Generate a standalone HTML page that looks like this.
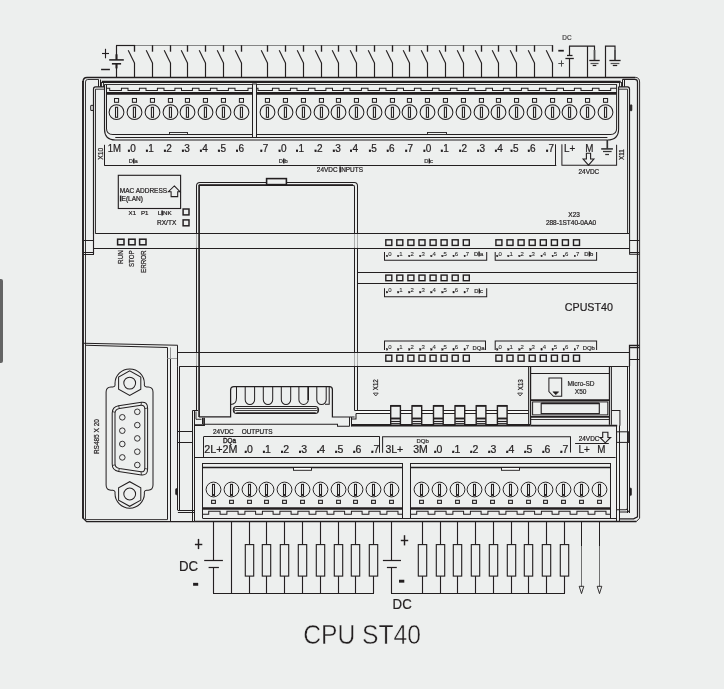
<!DOCTYPE html>
<html><head><meta charset="utf-8"><title>CPU ST40</title>
<style>
html,body{margin:0;padding:0;background:#fff;}
#wrap{position:relative;width:726px;height:691px;overflow:hidden;background:#fff;}
#bg{position:absolute;left:0;top:0;width:724px;height:689px;background:#edefee;}
#bar{position:absolute;left:0;top:279px;width:3px;height:84px;background:#646464;border-radius:0 2px 2px 0;}
svg{position:absolute;left:0;top:0;will-change:transform;}
text{font-family:"Liberation Sans",sans-serif;stroke:#231f20;stroke-width:.22px;}
</style></head><body>
<div id="wrap"><div id="bg"></div><div id="bar"></div>
<svg width="726" height="691" viewBox="0 0 726 691">
<g fill="none" stroke="#231f20" stroke-width="1" style="font-family:'Liberation Sans',sans-serif">
<path d="M134.5,45.5L553,45.5" stroke="#858585" stroke-width="1.01"/>
<path d="M116,45.5L135.1,45.5" stroke-width="1.18"/>
<path d="M116.5,45.6L116.5,59.9" stroke-width="1.18"/>
<path d="M116.5,54.3L116.5,59.9" stroke-width="2.02"/>
<path d="M109.2,59.9L123.8,59.9" stroke-width="1.51"/>
<path d="M111.9,63.8L121.1,63.8" stroke-width="1.57"/>
<path d="M116.5,63.8L116.5,68.4" stroke-width="2.02"/>
<path d="M116.5,63.8L116.5,77.2" stroke-width="1.18"/>
<path d="M102,53.5L109,53.5" stroke-width="1.12"/>
<path d="M105.5,48.8L105.5,58.3" stroke-width="1.12"/>
<path d="M101.1,69.5L109.9,69.5" stroke-width="1.46"/>
<path d="M134.5,45.2L134.5,51.7" stroke-width="1.34"/>
<path d="M128.2,50.3L134.6,63.3" stroke-width="1.12"/>
<path d="M134.5,63L134.5,77.2" stroke-width="1.18"/>
<path d="M152.5,45.2L152.5,51.7" stroke-width="1.34"/>
<path d="M146.2,50.3L152.6,63.3" stroke-width="1.12"/>
<path d="M152.5,63L152.5,77.2" stroke-width="1.18"/>
<path d="M170.5,45.2L170.5,51.7" stroke-width="1.34"/>
<path d="M164.2,50.3L170.6,63.3" stroke-width="1.12"/>
<path d="M170.5,63L170.5,77.2" stroke-width="1.18"/>
<path d="M187.5,45.2L187.5,51.7" stroke-width="1.34"/>
<path d="M181.2,50.3L187.6,63.3" stroke-width="1.12"/>
<path d="M187.5,63L187.5,77.2" stroke-width="1.18"/>
<path d="M205.5,45.2L205.5,51.7" stroke-width="1.34"/>
<path d="M199.2,50.3L205.6,63.3" stroke-width="1.12"/>
<path d="M205.5,63L205.5,77.2" stroke-width="1.18"/>
<path d="M223.5,45.2L223.5,51.7" stroke-width="1.34"/>
<path d="M217.2,50.3L223.6,63.3" stroke-width="1.12"/>
<path d="M223.5,63L223.5,77.2" stroke-width="1.18"/>
<path d="M241.5,45.2L241.5,51.7" stroke-width="1.34"/>
<path d="M235.2,50.3L241.6,63.3" stroke-width="1.12"/>
<path d="M241.5,63L241.5,77.2" stroke-width="1.18"/>
<path d="M267.5,45.2L267.5,51.7" stroke-width="1.34"/>
<path d="M261.2,50.3L267.6,63.3" stroke-width="1.12"/>
<path d="M267.5,63L267.5,77.2" stroke-width="1.18"/>
<path d="M285.5,45.2L285.5,51.7" stroke-width="1.34"/>
<path d="M279.2,50.3L285.6,63.3" stroke-width="1.12"/>
<path d="M285.5,63L285.5,77.2" stroke-width="1.18"/>
<path d="M303.5,45.2L303.5,51.7" stroke-width="1.34"/>
<path d="M297.2,50.3L303.6,63.3" stroke-width="1.12"/>
<path d="M303.5,63L303.5,77.2" stroke-width="1.18"/>
<path d="M321.5,45.2L321.5,51.7" stroke-width="1.34"/>
<path d="M315.2,50.3L321.6,63.3" stroke-width="1.12"/>
<path d="M321.5,63L321.5,77.2" stroke-width="1.18"/>
<path d="M338.5,45.2L338.5,51.7" stroke-width="1.34"/>
<path d="M332.2,50.3L338.6,63.3" stroke-width="1.12"/>
<path d="M338.5,63L338.5,77.2" stroke-width="1.18"/>
<path d="M356.5,45.2L356.5,51.7" stroke-width="1.34"/>
<path d="M350.2,50.3L356.6,63.3" stroke-width="1.12"/>
<path d="M356.5,63L356.5,77.2" stroke-width="1.18"/>
<path d="M374.5,45.2L374.5,51.7" stroke-width="1.34"/>
<path d="M368.2,50.3L374.6,63.3" stroke-width="1.12"/>
<path d="M374.5,63L374.5,77.2" stroke-width="1.18"/>
<path d="M392.5,45.2L392.5,51.7" stroke-width="1.34"/>
<path d="M386.2,50.3L392.6,63.3" stroke-width="1.12"/>
<path d="M392.5,63L392.5,77.2" stroke-width="1.18"/>
<path d="M409.5,45.2L409.5,51.7" stroke-width="1.34"/>
<path d="M403.2,50.3L409.6,63.3" stroke-width="1.12"/>
<path d="M409.5,63L409.5,77.2" stroke-width="1.18"/>
<path d="M427.5,45.2L427.5,51.7" stroke-width="1.34"/>
<path d="M421.2,50.3L427.6,63.3" stroke-width="1.12"/>
<path d="M427.5,63L427.5,77.2" stroke-width="1.18"/>
<path d="M445.5,45.2L445.5,51.7" stroke-width="1.34"/>
<path d="M439.2,50.3L445.6,63.3" stroke-width="1.12"/>
<path d="M445.5,63L445.5,77.2" stroke-width="1.18"/>
<path d="M463.5,45.2L463.5,51.7" stroke-width="1.34"/>
<path d="M457.2,50.3L463.6,63.3" stroke-width="1.12"/>
<path d="M463.5,63L463.5,77.2" stroke-width="1.18"/>
<path d="M481.5,45.2L481.5,51.7" stroke-width="1.34"/>
<path d="M475.2,50.3L481.6,63.3" stroke-width="1.12"/>
<path d="M481.5,63L481.5,77.2" stroke-width="1.18"/>
<path d="M498.5,45.2L498.5,51.7" stroke-width="1.34"/>
<path d="M492.2,50.3L498.6,63.3" stroke-width="1.12"/>
<path d="M498.5,63L498.5,77.2" stroke-width="1.18"/>
<path d="M516.5,45.2L516.5,51.7" stroke-width="1.34"/>
<path d="M510.2,50.3L516.6,63.3" stroke-width="1.12"/>
<path d="M516.5,63L516.5,77.2" stroke-width="1.18"/>
<path d="M534.5,45.2L534.5,51.7" stroke-width="1.34"/>
<path d="M528.2,50.3L534.6,63.3" stroke-width="1.12"/>
<path d="M534.5,63L534.5,77.2" stroke-width="1.18"/>
<path d="M552.5,45.2L552.5,51.7" stroke-width="1.34"/>
<path d="M546.2,50.3L552.6,63.3" stroke-width="1.12"/>
<path d="M552.5,63L552.5,77.2" stroke-width="1.18"/>
<path d="M569.5,46.1L569.5,55.6" stroke-width="1.18"/>
<path d="M567,55.5L572.5,55.5" stroke-width="1.29"/>
<path d="M565.4,58.5L573.8,58.5" stroke-width="1.29"/>
<path d="M569.5,58.5L569.5,77.2" stroke-width="1.18"/>
<path d="M569,46.1L594.5,46.1L594.5,60.4" stroke-width="1.18"/>
<path d="M594.5,50L594.5,60.4" stroke="#555" stroke-width="1.68"/>
<path d="M587.5,46.1L587.5,77.2" stroke-width="1.18"/>
<path d="M589.3,60.5L599.7,60.5" stroke-width="1.34"/>
<path d="M590.5,63.5L598.5,63.5" stroke="#555" stroke-width="1.23"/>
<path d="M592.7,65.5L596.3,65.5" stroke-width="1.23"/>
<path d="M605.5,77.2L605.5,46.1L615,46.1L615,60.4" stroke-width="1.18"/>
<path d="M615,50L615,60.4" stroke="#555" stroke-width="1.68"/>
<path d="M609.4,60.5L620.6,60.5" stroke-width="1.34"/>
<path d="M610.6,63.5L619.4,63.5" stroke="#555" stroke-width="1.23"/>
<path d="M612.8,65.5L617.2,65.5" stroke-width="1.23"/>
<text x="562.3" y="39.7" font-size="6.4" fill="#666">DC</text>
<path d="M558.3,50.7L563.8,50.7" stroke-width="1.74"/>
<path d="M558.3,63.5L563.9,63.5" stroke="#444" stroke-width="0.95"/>
<path d="M561.5,60.4L561.5,66.6" stroke="#444" stroke-width="0.95"/>
<path d="M83,82 Q83,77.5 87,77.5 H635.5" stroke-width="1.34"/>
<path d="M83,81 V518.6" stroke-width="1.9"/>
<path d="M635.5,77.5 Q639.6,77.5 639.6,82 V518.2 L636.2,521.7" stroke-width="0.95"/>
<path d="M85.5,343.5 V82 Q85.3,79.5 87.8,79.5 H98.7" stroke-width="0.9"/>
<path d="M622.6,79.3 H634.8 Q637.5,79.3 637.5,82 V516.8 L633.6,518.8 H619.3" stroke-width="1.23"/>
<path d="M98.5,79.5L98.5,86.8" stroke-width="1.01"/>
<path d="M100.5,79.5L100.5,86.8" stroke-width="1.01"/>
<path d="M101.5,82L101.5,87" stroke-width="0.9"/>
<path d="M103.5,82L103.5,87" stroke-width="0.9"/>
<path d="M101.8,81.9L620.7,81.9" stroke-width="2.35"/>
<path d="M104.4,84.5L616.9,84.5" stroke-width="0.9"/>
<path d="M622.5,79.3L622.5,86.8" stroke-width="1.01"/>
<path d="M624.5,79.3L624.5,86.8" stroke-width="1.01"/>
<path d="M619.5,82L619.5,87" stroke-width="0.9"/>
<path d="M621.5,82L621.5,87" stroke-width="0.9"/>
<path d="M104.4,86.8 H95.5 Q93.5,86.8 93.5,89 V233.6" stroke-width="1.18"/>
<path d="M104.4,89.2 H95.5 V233.6" stroke-width="0.9"/>
<path d="M618.6,86.8 H627.5 Q629.5,86.8 629.5,89 V233.5" stroke-width="1.18"/>
<path d="M618.6,89.2 H627.5 V233.5" stroke-width="0.9"/>
<path d="M104.5,84.5 V129 Q104.5,140.0 115.3,140.0 H607.4" stroke-width="1.12"/>
<path d="M106.5,84.5 V128.5 Q106.5,134.5 112.8,134.5 H610.4 Q616.6,134.5 616.6,128.5 V84.5" stroke-width="1.01"/>
<path d="M115.3,137.5 H607.4" stroke-width="1.01"/>
<path d="M607.4,140.0 Q618.6,140.0 618.6,129 V86.8" stroke-width="1.12"/>
<path d="M106.4,88.3L109.7,88.3L109.7,90.6L121.4,90.6L121.4,88.3L128,88.3L128,90.6L139.4,90.6L139.4,88.3L146,88.3L146,90.6L157.4,90.6L157.4,88.3L164,88.3L164,90.6L174.9,90.6L174.9,88.3L181.5,88.3L181.5,90.6L192.4,90.6L192.4,88.3L199,88.3L199,90.6L210.4,90.6L210.4,88.3L217,88.3L217,90.6L228.4,90.6L228.4,88.3L235,88.3L235,90.6L248,90.6L248,88.3L252.9,88.3" stroke-width="1.01"/>
<path d="M256.7,88.3L258,88.3L258,90.6L272.4,90.6L272.4,88.3L279,88.3L279,90.6L290.4,90.6L290.4,88.3L297,88.3L297,90.6L308.4,90.6L308.4,88.3L315,88.3L315,90.6L325.9,90.6L325.9,88.3L332.5,88.3L332.5,90.6L343.4,90.6L343.4,88.3L350,88.3L350,90.6L361.4,90.6L361.4,88.3L368,88.3L368,90.6L379.4,90.6L379.4,88.3L386,88.3L386,90.6L396.9,90.6L396.9,88.3L403.5,88.3L403.5,90.6L414.4,90.6L414.4,88.3L421,88.3L421,90.6L432.4,90.6L432.4,88.3L439,88.3L439,90.6L450.4,90.6L450.4,88.3L457,88.3L457,90.6L468.4,90.6L468.4,88.3L475,88.3L475,90.6L485.9,90.6L485.9,88.3L492.5,88.3L492.5,90.6L503.4,90.6L503.4,88.3L510,88.3L510,90.6L521.4,90.6L521.4,88.3L528,88.3L528,90.6L539.4,90.6L539.4,88.3L546,88.3L546,90.6L556.9,90.6L556.9,88.3L563.5,88.3L563.5,90.6L574.4,90.6L574.4,88.3L581,88.3L581,90.6L592.4,90.6L592.4,88.3L599,88.3L599,90.6L610.7,90.6L610.7,88.3L616.7,88.3" stroke-width="1.01"/>
<path d="M106.4,93.4L616.7,93.4" stroke-width="2.63"/>
<rect x="252.5" y="84" width="4" height="53.5" fill="#edefee" stroke-width="1.01"/>
<rect x="114.5" y="98.5" width="4.1" height="3.8" stroke-width="1.01"/>
<circle cx="116.5" cy="112.2" r="7.4" stroke-width="1.01"/>
<rect x="115.5" y="107.3" width="2.1" height="10" stroke-width="1.06"/>
<rect x="132.4" y="98.5" width="4.1" height="3.8" stroke-width="1.01"/>
<circle cx="134.5" cy="112.2" r="7.4" stroke-width="1.01"/>
<rect x="133.4" y="107.3" width="2.1" height="10" stroke-width="1.06"/>
<rect x="150.4" y="98.5" width="4.1" height="3.8" stroke-width="1.01"/>
<circle cx="152.5" cy="112.2" r="7.4" stroke-width="1.01"/>
<rect x="151.4" y="107.3" width="2.1" height="10" stroke-width="1.06"/>
<rect x="168.4" y="98.5" width="4.1" height="3.8" stroke-width="1.01"/>
<circle cx="170.5" cy="112.2" r="7.4" stroke-width="1.01"/>
<rect x="169.4" y="107.3" width="2.1" height="10" stroke-width="1.06"/>
<rect x="185.4" y="98.5" width="4.1" height="3.8" stroke-width="1.01"/>
<circle cx="187.5" cy="112.2" r="7.4" stroke-width="1.01"/>
<rect x="186.4" y="107.3" width="2.1" height="10" stroke-width="1.06"/>
<rect x="203.4" y="98.5" width="4.1" height="3.8" stroke-width="1.01"/>
<circle cx="205.5" cy="112.2" r="7.4" stroke-width="1.01"/>
<rect x="204.4" y="107.3" width="2.1" height="10" stroke-width="1.06"/>
<rect x="221.4" y="98.5" width="4.1" height="3.8" stroke-width="1.01"/>
<circle cx="223.5" cy="112.2" r="7.4" stroke-width="1.01"/>
<rect x="222.4" y="107.3" width="2.1" height="10" stroke-width="1.06"/>
<rect x="239.4" y="98.5" width="4.1" height="3.8" stroke-width="1.01"/>
<circle cx="241.5" cy="112.2" r="7.4" stroke-width="1.01"/>
<rect x="240.4" y="107.3" width="2.1" height="10" stroke-width="1.06"/>
<rect x="265.4" y="98.5" width="4.1" height="3.8" stroke-width="1.01"/>
<circle cx="267.5" cy="112.2" r="7.4" stroke-width="1.01"/>
<rect x="266.4" y="107.3" width="2.1" height="10" stroke-width="1.06"/>
<rect x="283.4" y="98.5" width="4.1" height="3.8" stroke-width="1.01"/>
<circle cx="285.5" cy="112.2" r="7.4" stroke-width="1.01"/>
<rect x="284.4" y="107.3" width="2.1" height="10" stroke-width="1.06"/>
<rect x="301.4" y="98.5" width="4.1" height="3.8" stroke-width="1.01"/>
<circle cx="303.5" cy="112.2" r="7.4" stroke-width="1.01"/>
<rect x="302.4" y="107.3" width="2.1" height="10" stroke-width="1.06"/>
<rect x="319.4" y="98.5" width="4.1" height="3.8" stroke-width="1.01"/>
<circle cx="321.5" cy="112.2" r="7.4" stroke-width="1.01"/>
<rect x="320.4" y="107.3" width="2.1" height="10" stroke-width="1.06"/>
<rect x="336.4" y="98.5" width="4.1" height="3.8" stroke-width="1.01"/>
<circle cx="338.5" cy="112.2" r="7.4" stroke-width="1.01"/>
<rect x="337.4" y="107.3" width="2.1" height="10" stroke-width="1.06"/>
<rect x="354.4" y="98.5" width="4.1" height="3.8" stroke-width="1.01"/>
<circle cx="356.5" cy="112.2" r="7.4" stroke-width="1.01"/>
<rect x="355.4" y="107.3" width="2.1" height="10" stroke-width="1.06"/>
<rect x="372.4" y="98.5" width="4.1" height="3.8" stroke-width="1.01"/>
<circle cx="374.5" cy="112.2" r="7.4" stroke-width="1.01"/>
<rect x="373.4" y="107.3" width="2.1" height="10" stroke-width="1.06"/>
<rect x="390.4" y="98.5" width="4.1" height="3.8" stroke-width="1.01"/>
<circle cx="392.5" cy="112.2" r="7.4" stroke-width="1.01"/>
<rect x="391.4" y="107.3" width="2.1" height="10" stroke-width="1.06"/>
<rect x="407.4" y="98.5" width="4.1" height="3.8" stroke-width="1.01"/>
<circle cx="409.5" cy="112.2" r="7.4" stroke-width="1.01"/>
<rect x="408.4" y="107.3" width="2.1" height="10" stroke-width="1.06"/>
<rect x="425.4" y="98.5" width="4.1" height="3.8" stroke-width="1.01"/>
<circle cx="427.5" cy="112.2" r="7.4" stroke-width="1.01"/>
<rect x="426.4" y="107.3" width="2.1" height="10" stroke-width="1.06"/>
<rect x="443.4" y="98.5" width="4.1" height="3.8" stroke-width="1.01"/>
<circle cx="445.5" cy="112.2" r="7.4" stroke-width="1.01"/>
<rect x="444.4" y="107.3" width="2.1" height="10" stroke-width="1.06"/>
<rect x="461.4" y="98.5" width="4.1" height="3.8" stroke-width="1.01"/>
<circle cx="463.5" cy="112.2" r="7.4" stroke-width="1.01"/>
<rect x="462.4" y="107.3" width="2.1" height="10" stroke-width="1.06"/>
<rect x="479.4" y="98.5" width="4.1" height="3.8" stroke-width="1.01"/>
<circle cx="481.5" cy="112.2" r="7.4" stroke-width="1.01"/>
<rect x="480.4" y="107.3" width="2.1" height="10" stroke-width="1.06"/>
<rect x="496.4" y="98.5" width="4.1" height="3.8" stroke-width="1.01"/>
<circle cx="498.5" cy="112.2" r="7.4" stroke-width="1.01"/>
<rect x="497.4" y="107.3" width="2.1" height="10" stroke-width="1.06"/>
<rect x="514.5" y="98.5" width="4.1" height="3.8" stroke-width="1.01"/>
<circle cx="516.5" cy="112.2" r="7.4" stroke-width="1.01"/>
<rect x="515.5" y="107.3" width="2.1" height="10" stroke-width="1.06"/>
<rect x="532.5" y="98.5" width="4.1" height="3.8" stroke-width="1.01"/>
<circle cx="534.5" cy="112.2" r="7.4" stroke-width="1.01"/>
<rect x="533.5" y="107.3" width="2.1" height="10" stroke-width="1.06"/>
<rect x="550.5" y="98.5" width="4.1" height="3.8" stroke-width="1.01"/>
<circle cx="552.5" cy="112.2" r="7.4" stroke-width="1.01"/>
<rect x="551.5" y="107.3" width="2.1" height="10" stroke-width="1.06"/>
<rect x="567.5" y="98.5" width="4.1" height="3.8" stroke-width="1.01"/>
<circle cx="569.5" cy="112.2" r="7.4" stroke-width="1.01"/>
<rect x="568.5" y="107.3" width="2.1" height="10" stroke-width="1.06"/>
<rect x="585.5" y="98.5" width="4.1" height="3.8" stroke-width="1.01"/>
<circle cx="587.5" cy="112.2" r="7.4" stroke-width="1.01"/>
<rect x="586.5" y="107.3" width="2.1" height="10" stroke-width="1.06"/>
<rect x="603.5" y="98.5" width="4.1" height="3.8" stroke-width="1.01"/>
<circle cx="605.5" cy="112.2" r="7.4" stroke-width="1.01"/>
<rect x="604.5" y="107.3" width="2.1" height="10" stroke-width="1.06"/>
<rect x="169.5" y="132.5" width="18" height="2" fill="#edefee" stroke-width="0.9"/>
<rect x="427.5" y="132.5" width="19" height="2" fill="#edefee" stroke-width="0.9"/>
<rect x="90.7" y="105.2" width="2.7" height="5.4" rx="1" stroke-width="1.01"/>
<rect x="630.3" y="104.8" width="1.5" height="6" rx="0.6" fill="#231f20" stroke-width="0.9"/>
<path d="M104.5,144.8L104.5,165.3" stroke-width="1.01"/>
<path d="M104.2,165.5L556.3,165.5" stroke-width="1.01"/>
<path d="M555.5,144.3L555.5,165.2" stroke-width="1.01"/>
<path d="M561.9,144.3L561.9,165.3L616.6,165.3L616.6,144.8" stroke-width="1.01"/>
<text x="107.7" y="151.5" font-size="10.2" fill="#231f20" textLength="13.3" lengthAdjust="spacingAndGlyphs">1M</text>
<text x="131.7" y="151.6" font-size="10" text-anchor="middle" fill="#231f20">.0</text>
<rect x="127.9" y="149.6" width="2" height="2.1" fill="#231f20" stroke="none"/>
<text x="149.7" y="151.6" font-size="10" text-anchor="middle" fill="#231f20">.1</text>
<rect x="145.9" y="149.6" width="2" height="2.1" fill="#231f20" stroke="none"/>
<text x="167.7" y="151.6" font-size="10" text-anchor="middle" fill="#231f20">.2</text>
<rect x="163.9" y="149.6" width="2" height="2.1" fill="#231f20" stroke="none"/>
<text x="185.7" y="151.6" font-size="10" text-anchor="middle" fill="#231f20">.3</text>
<rect x="181.9" y="149.6" width="2" height="2.1" fill="#231f20" stroke="none"/>
<text x="203.7" y="151.6" font-size="10" text-anchor="middle" fill="#231f20">.4</text>
<rect x="199.9" y="149.6" width="2" height="2.1" fill="#231f20" stroke="none"/>
<text x="221.8" y="151.6" font-size="10" text-anchor="middle" fill="#231f20">.5</text>
<rect x="217.9" y="149.6" width="2" height="2.1" fill="#231f20" stroke="none"/>
<text x="239.8" y="151.6" font-size="10" text-anchor="middle" fill="#231f20">.6</text>
<rect x="236" y="149.6" width="2" height="2.1" fill="#231f20" stroke="none"/>
<text x="264.1" y="151.6" font-size="10" text-anchor="middle" fill="#231f20">.7</text>
<rect x="260.3" y="149.6" width="2" height="2.1" fill="#231f20" stroke="none"/>
<text x="282.3" y="151.6" font-size="10" text-anchor="middle" fill="#231f20">.0</text>
<rect x="278.5" y="149.6" width="2" height="2.1" fill="#231f20" stroke="none"/>
<text x="299.8" y="151.6" font-size="10" text-anchor="middle" fill="#231f20">.1</text>
<rect x="296" y="149.6" width="2" height="2.1" fill="#231f20" stroke="none"/>
<text x="318.3" y="151.6" font-size="10" text-anchor="middle" fill="#231f20">.2</text>
<rect x="314.5" y="149.6" width="2" height="2.1" fill="#231f20" stroke="none"/>
<text x="336.6" y="151.6" font-size="10" text-anchor="middle" fill="#231f20">.3</text>
<rect x="332.8" y="149.6" width="2" height="2.1" fill="#231f20" stroke="none"/>
<text x="353.8" y="151.6" font-size="10" text-anchor="middle" fill="#231f20">.4</text>
<rect x="350" y="149.6" width="2" height="2.1" fill="#231f20" stroke="none"/>
<text x="372.7" y="151.6" font-size="10" text-anchor="middle" fill="#231f20">.5</text>
<rect x="368.9" y="149.6" width="2" height="2.1" fill="#231f20" stroke="none"/>
<text x="390.5" y="151.6" font-size="10" text-anchor="middle" fill="#231f20">.6</text>
<rect x="386.7" y="149.6" width="2" height="2.1" fill="#231f20" stroke="none"/>
<text x="409" y="151.6" font-size="10" text-anchor="middle" fill="#231f20">.7</text>
<rect x="405.2" y="149.6" width="2" height="2.1" fill="#231f20" stroke="none"/>
<text x="427.2" y="151.6" font-size="10" text-anchor="middle" fill="#231f20">.0</text>
<rect x="423.4" y="149.6" width="2" height="2.1" fill="#231f20" stroke="none"/>
<text x="444.6" y="151.6" font-size="10" text-anchor="middle" fill="#231f20">.1</text>
<rect x="440.8" y="149.6" width="2" height="2.1" fill="#231f20" stroke="none"/>
<text x="462.9" y="151.6" font-size="10" text-anchor="middle" fill="#231f20">.2</text>
<rect x="459.1" y="149.6" width="2" height="2.1" fill="#231f20" stroke="none"/>
<text x="480.9" y="151.6" font-size="10" text-anchor="middle" fill="#231f20">.3</text>
<rect x="477.1" y="149.6" width="2" height="2.1" fill="#231f20" stroke="none"/>
<text x="498.7" y="151.6" font-size="10" text-anchor="middle" fill="#231f20">.4</text>
<rect x="494.9" y="149.6" width="2" height="2.1" fill="#231f20" stroke="none"/>
<text x="514.3" y="151.6" font-size="10" text-anchor="middle" fill="#231f20">.5</text>
<rect x="510.5" y="149.6" width="2" height="2.1" fill="#231f20" stroke="none"/>
<text x="531.5" y="151.6" font-size="10" text-anchor="middle" fill="#231f20">.6</text>
<rect x="527.8" y="149.6" width="2" height="2.1" fill="#231f20" stroke="none"/>
<text x="549.9" y="151.6" font-size="10" text-anchor="middle" fill="#231f20">.7</text>
<rect x="546.1" y="149.6" width="2" height="2.1" fill="#231f20" stroke="none"/>
<text x="564" y="151.6" font-size="10.6" fill="#231f20" textLength="11.2" lengthAdjust="spacingAndGlyphs">L+</text>
<text x="585.2" y="151.6" font-size="10.6" fill="#231f20" textLength="8.2" lengthAdjust="spacingAndGlyphs">M</text>
<path d="M607.3,140L607.3,148.9" stroke="#333" stroke-width="1.68"/>
<path d="M601.2,148.9L612.9,148.9" stroke="#333" stroke-width="1.57"/>
<path d="M603,151.5L611.6,151.5" stroke="#333" stroke-width="1.23"/>
<path d="M605.2,154.5L609,154.5" stroke="#333" stroke-width="1.23"/>
<text x="102.9" y="159.8" font-size="6.6" fill="#231f20" transform="rotate(-90 102.9 159.8)" textLength="12" lengthAdjust="spacingAndGlyphs">X10</text>
<text x="623.6" y="159.9" font-size="6.6" fill="#231f20" transform="rotate(-90 623.6 159.9)" textLength="10.8" lengthAdjust="spacingAndGlyphs">X11</text>
<text x="128.8" y="163" font-size="5.8" fill="#444">D<tspan style="stroke-width:.9px">I</tspan>a</text>
<text x="278.8" y="162.6" font-size="5.8" fill="#444">D<tspan style="stroke-width:.9px">I</tspan>b</text>
<text x="424.3" y="162.6" font-size="5.8" fill="#444">D<tspan style="stroke-width:.9px">I</tspan>c</text>
<text x="316.8" y="172.2" font-size="6.45" fill="#231f20">24VDC <tspan style="stroke-width:.9px">I</tspan>NPUTS</text>
<text x="578.5" y="174.1" font-size="6.45" fill="#231f20">24VDC</text>
<path d="M586.4,153.2L590.6,153.2L590.6,159L593.9,159L588.5,165.2L583.1,159L586.4,159Z" fill="#edefee" stroke-width="1.12"/>
<rect x="118.3" y="175.3" width="62.3" height="33.2" stroke-width="1.12"/>
<text x="119.8" y="193.2" font-size="6.5" fill="#231f20">MAC ADDRESS</text>
<text x="119.8" y="201.2" font-size="6.5" fill="#231f20"><tspan style="stroke-width:.9px">I</tspan>E(LAN)</text>
<path d="M174.3,185.9L180,191.7L177.7,191.7L177.7,196.6L171.1,196.6L171.1,191.7L168.4,191.7Z" fill="#edefee" stroke-width="1.06"/>
<text x="128.6" y="214.9" font-size="6.1" fill="#231f20">X1</text>
<text x="141" y="214.9" font-size="6.1" fill="#231f20">P1</text>
<text x="157.7" y="214.9" font-size="6.25" fill="#231f20">L<tspan style="stroke-width:.9px">I</tspan>NK</text>
<text x="157.1" y="224.8" font-size="6.5" fill="#231f20">RX/TX</text>
<rect x="183.1" y="209" width="5.9" height="5.9" stroke-width="1.46"/>
<rect x="183.1" y="219.9" width="5.9" height="5.9" stroke-width="1.46"/>
<path d="M95.4,233.5L629.6,233.5" stroke-width="1.01"/>
<path d="M93.5,248.5L629.6,248.5" stroke-width="1.01"/>
<path d="M83.5,240.5L93.5,240.5" stroke-width="1.01"/>
<path d="M83.5,252.5L93.5,252.5" stroke-width="1.01"/>
<path d="M83.5,254.5L94,254.5" stroke-width="1.01"/>
<path d="M93.5,233L93.5,254.5" stroke-width="1.12"/>
<rect x="117.6" y="239.2" width="6.4" height="5.6" stroke-width="1.51"/>
<rect x="128.7" y="239.2" width="6.4" height="5.6" stroke-width="1.51"/>
<rect x="139.6" y="239.2" width="6.4" height="5.6" stroke-width="1.51"/>
<text x="123.2" y="263.9" font-size="6.6" fill="#231f20" transform="rotate(-90 123.2 263.9)" textLength="13.7" lengthAdjust="spacingAndGlyphs">RUN</text>
<text x="134.3" y="267.1" font-size="6.6" fill="#231f20" transform="rotate(-90 134.3 267.1)" textLength="16.7" lengthAdjust="spacingAndGlyphs">STOP</text>
<text x="146.1" y="273" font-size="6.6" fill="#231f20" transform="rotate(-90 146.1 273)" textLength="22.6" lengthAdjust="spacingAndGlyphs">ERROR</text>
<path d="M196.5,410.4 V186 Q196.5,182.6 200,182.6 H354.2 Q357.5,182.6 357.5,186 V410.6" stroke-width="1.01"/>
<path d="M199.1,416.9 V185.2" stroke-width="1.68"/>
<path d="M198.4,185.2 H353 Q354.5,185.2 354.5,187 V410.6" stroke-width="1.01"/>
<path d="M199.1,185.2L353,185.2" stroke-width="1.79"/>
<rect x="266.6" y="178.6" width="19.8" height="6" fill="#edefee" stroke-width="1.57"/>
<path d="M196.5,234.2L196.5,247.6" stroke="#edefee" stroke-width="1.46"/>
<path d="M196.5,234.2L196.5,247.6" stroke="#999" stroke-width="0.78"/>
<path d="M357.5,234.2L357.5,247.6" stroke="#edefee" stroke-width="1.46"/>
<path d="M357.5,234.2L357.5,247.6" stroke="#999" stroke-width="0.78"/>
<path d="M354.5,234.2L354.5,247.6" stroke="#edefee" stroke-width="1.46"/>
<path d="M354.5,234.2L354.5,247.6" stroke="#999" stroke-width="0.78"/>
<path d="M196.5,352.8L196.5,365.6" stroke="#edefee" stroke-width="1.46"/>
<path d="M196.5,352.8L196.5,365.6" stroke="#999" stroke-width="0.78"/>
<path d="M357.5,352.8L357.5,365.6" stroke="#edefee" stroke-width="1.46"/>
<path d="M357.5,352.8L357.5,365.6" stroke="#999" stroke-width="0.78"/>
<path d="M354.5,352.8L354.5,365.6" stroke="#edefee" stroke-width="1.46"/>
<path d="M354.5,352.8L354.5,365.6" stroke="#999" stroke-width="0.78"/>
<path d="M357.5,272.5L637.5,272.5" stroke-width="1.01"/>
<path d="M357.5,283.5L637.5,283.5" stroke-width="1.01"/>
<path d="M177.7,352.5L629.4,352.5" stroke-width="1.01"/>
<path d="M179.7,366.5L628.6,366.5" stroke-width="1.01"/>
<rect x="385.8" y="239.8" width="6" height="5.6" stroke-width="1.4"/>
<rect x="396.8" y="239.8" width="6" height="5.6" stroke-width="1.4"/>
<rect x="407.9" y="239.8" width="6" height="5.6" stroke-width="1.4"/>
<rect x="419" y="239.8" width="6" height="5.6" stroke-width="1.4"/>
<rect x="430.1" y="239.8" width="6" height="5.6" stroke-width="1.4"/>
<rect x="441.1" y="239.8" width="6" height="5.6" stroke-width="1.4"/>
<rect x="452.2" y="239.8" width="6" height="5.6" stroke-width="1.4"/>
<rect x="463.3" y="239.8" width="6" height="5.6" stroke-width="1.4"/>
<rect x="495.9" y="239.8" width="6" height="5.6" stroke-width="1.4"/>
<rect x="507" y="239.8" width="6" height="5.6" stroke-width="1.4"/>
<rect x="518.1" y="239.8" width="6" height="5.6" stroke-width="1.4"/>
<rect x="529.2" y="239.8" width="6" height="5.6" stroke-width="1.4"/>
<rect x="540.3" y="239.8" width="6" height="5.6" stroke-width="1.4"/>
<rect x="551.4" y="239.8" width="6" height="5.6" stroke-width="1.4"/>
<rect x="562.4" y="239.8" width="6" height="5.6" stroke-width="1.4"/>
<rect x="573.5" y="239.8" width="6" height="5.6" stroke-width="1.4"/>
<rect x="386.4" y="255.3" width="1.4" height="1.5" fill="#231f20" stroke-width="0.34"/>
<text x="388.2" y="255.9" font-size="6.0" fill="#333" style="stroke-width:.1px">0</text>
<rect x="397.5" y="255.3" width="1.4" height="1.5" fill="#231f20" stroke-width="0.34"/>
<text x="399.3" y="255.9" font-size="6.0" fill="#333" style="stroke-width:.1px">1</text>
<rect x="408.6" y="255.3" width="1.4" height="1.5" fill="#231f20" stroke-width="0.34"/>
<text x="410.4" y="255.9" font-size="6.0" fill="#333" style="stroke-width:.1px">2</text>
<rect x="419.6" y="255.3" width="1.4" height="1.5" fill="#231f20" stroke-width="0.34"/>
<text x="421.4" y="255.9" font-size="6.0" fill="#333" style="stroke-width:.1px">3</text>
<rect x="430.7" y="255.3" width="1.4" height="1.5" fill="#231f20" stroke-width="0.34"/>
<text x="432.5" y="255.9" font-size="6.0" fill="#333" style="stroke-width:.1px">4</text>
<rect x="441.8" y="255.3" width="1.4" height="1.5" fill="#231f20" stroke-width="0.34"/>
<text x="443.6" y="255.9" font-size="6.0" fill="#333" style="stroke-width:.1px">5</text>
<rect x="452.9" y="255.3" width="1.4" height="1.5" fill="#231f20" stroke-width="0.34"/>
<text x="454.7" y="255.9" font-size="6.0" fill="#333" style="stroke-width:.1px">6</text>
<rect x="464" y="255.3" width="1.4" height="1.5" fill="#231f20" stroke-width="0.34"/>
<text x="465.8" y="255.9" font-size="6.0" fill="#333" style="stroke-width:.1px">7</text>
<text x="478.6" y="256.3" font-size="5.9" text-anchor="middle" fill="#3c3c3c">D<tspan style="stroke-width:.8px;fill:#231f20">I</tspan>a</text>
<rect x="496.6" y="255.3" width="1.4" height="1.5" fill="#231f20" stroke-width="0.34"/>
<text x="498.4" y="255.9" font-size="6.0" fill="#333" style="stroke-width:.1px">0</text>
<rect x="507.7" y="255.3" width="1.4" height="1.5" fill="#231f20" stroke-width="0.34"/>
<text x="509.5" y="255.9" font-size="6.0" fill="#333" style="stroke-width:.1px">1</text>
<rect x="518.8" y="255.3" width="1.4" height="1.5" fill="#231f20" stroke-width="0.34"/>
<text x="520.6" y="255.9" font-size="6.0" fill="#333" style="stroke-width:.1px">2</text>
<rect x="529.8" y="255.3" width="1.4" height="1.5" fill="#231f20" stroke-width="0.34"/>
<text x="531.6" y="255.9" font-size="6.0" fill="#333" style="stroke-width:.1px">3</text>
<rect x="540.9" y="255.3" width="1.4" height="1.5" fill="#231f20" stroke-width="0.34"/>
<text x="542.7" y="255.9" font-size="6.0" fill="#333" style="stroke-width:.1px">4</text>
<rect x="552" y="255.3" width="1.4" height="1.5" fill="#231f20" stroke-width="0.34"/>
<text x="553.8" y="255.9" font-size="6.0" fill="#333" style="stroke-width:.1px">5</text>
<rect x="563.1" y="255.3" width="1.4" height="1.5" fill="#231f20" stroke-width="0.34"/>
<text x="564.9" y="255.9" font-size="6.0" fill="#333" style="stroke-width:.1px">6</text>
<rect x="574.2" y="255.3" width="1.4" height="1.5" fill="#231f20" stroke-width="0.34"/>
<text x="576" y="255.9" font-size="6.0" fill="#333" style="stroke-width:.1px">7</text>
<text x="588.8" y="256.3" font-size="5.9" text-anchor="middle" fill="#3c3c3c">D<tspan style="stroke-width:.8px;fill:#231f20">I</tspan>b</text>
<path d="M384.5,252L384.5,260.3L486.7,260.3L486.7,252" stroke-width="1.01"/>
<path d="M495.2,252L495.2,260.3L596.6,260.3L596.6,252" stroke-width="1.01"/>
<rect x="385.8" y="275.1" width="6" height="5.6" stroke-width="1.4"/>
<rect x="396.8" y="275.1" width="6" height="5.6" stroke-width="1.4"/>
<rect x="407.9" y="275.1" width="6" height="5.6" stroke-width="1.4"/>
<rect x="419" y="275.1" width="6" height="5.6" stroke-width="1.4"/>
<rect x="430.1" y="275.1" width="6" height="5.6" stroke-width="1.4"/>
<rect x="441.1" y="275.1" width="6" height="5.6" stroke-width="1.4"/>
<rect x="452.2" y="275.1" width="6" height="5.6" stroke-width="1.4"/>
<rect x="463.3" y="275.1" width="6" height="5.6" stroke-width="1.4"/>
<rect x="386.4" y="291.5" width="1.4" height="1.5" fill="#231f20" stroke-width="0.34"/>
<text x="388.2" y="292.1" font-size="6.0" fill="#333" style="stroke-width:.1px">0</text>
<rect x="397.5" y="291.5" width="1.4" height="1.5" fill="#231f20" stroke-width="0.34"/>
<text x="399.3" y="292.1" font-size="6.0" fill="#333" style="stroke-width:.1px">1</text>
<rect x="408.6" y="291.5" width="1.4" height="1.5" fill="#231f20" stroke-width="0.34"/>
<text x="410.4" y="292.1" font-size="6.0" fill="#333" style="stroke-width:.1px">2</text>
<rect x="419.6" y="291.5" width="1.4" height="1.5" fill="#231f20" stroke-width="0.34"/>
<text x="421.4" y="292.1" font-size="6.0" fill="#333" style="stroke-width:.1px">3</text>
<rect x="430.7" y="291.5" width="1.4" height="1.5" fill="#231f20" stroke-width="0.34"/>
<text x="432.5" y="292.1" font-size="6.0" fill="#333" style="stroke-width:.1px">4</text>
<rect x="441.8" y="291.5" width="1.4" height="1.5" fill="#231f20" stroke-width="0.34"/>
<text x="443.6" y="292.1" font-size="6.0" fill="#333" style="stroke-width:.1px">5</text>
<rect x="452.9" y="291.5" width="1.4" height="1.5" fill="#231f20" stroke-width="0.34"/>
<text x="454.7" y="292.1" font-size="6.0" fill="#333" style="stroke-width:.1px">6</text>
<rect x="464" y="291.5" width="1.4" height="1.5" fill="#231f20" stroke-width="0.34"/>
<text x="465.8" y="292.1" font-size="6.0" fill="#333" style="stroke-width:.1px">7</text>
<text x="478.6" y="292.5" font-size="5.9" text-anchor="middle" fill="#3c3c3c">D<tspan style="stroke-width:.8px;fill:#231f20">I</tspan>c</text>
<path d="M384.5,288.2L384.5,296.7L486.7,296.7L486.7,288.2" stroke-width="1.01"/>
<rect x="385.8" y="355.2" width="6" height="6" stroke-width="1.4"/>
<rect x="396.8" y="355.2" width="6" height="6" stroke-width="1.4"/>
<rect x="407.9" y="355.2" width="6" height="6" stroke-width="1.4"/>
<rect x="419" y="355.2" width="6" height="6" stroke-width="1.4"/>
<rect x="430.1" y="355.2" width="6" height="6" stroke-width="1.4"/>
<rect x="441.1" y="355.2" width="6" height="6" stroke-width="1.4"/>
<rect x="452.2" y="355.2" width="6" height="6" stroke-width="1.4"/>
<rect x="463.3" y="355.2" width="6" height="6" stroke-width="1.4"/>
<rect x="495.9" y="355.2" width="6" height="6" stroke-width="1.4"/>
<rect x="507" y="355.2" width="6" height="6" stroke-width="1.4"/>
<rect x="518.1" y="355.2" width="6" height="6" stroke-width="1.4"/>
<rect x="529.2" y="355.2" width="6" height="6" stroke-width="1.4"/>
<rect x="540.3" y="355.2" width="6" height="6" stroke-width="1.4"/>
<rect x="551.4" y="355.2" width="6" height="6" stroke-width="1.4"/>
<rect x="562.4" y="355.2" width="6" height="6" stroke-width="1.4"/>
<rect x="573.5" y="355.2" width="6" height="6" stroke-width="1.4"/>
<rect x="386.4" y="348.7" width="1.4" height="1.5" fill="#231f20" stroke-width="0.34"/>
<text x="388.2" y="349.3" font-size="6.0" fill="#333" style="stroke-width:.1px">0</text>
<rect x="397.5" y="348.7" width="1.4" height="1.5" fill="#231f20" stroke-width="0.34"/>
<text x="399.3" y="349.3" font-size="6.0" fill="#333" style="stroke-width:.1px">1</text>
<rect x="408.6" y="348.7" width="1.4" height="1.5" fill="#231f20" stroke-width="0.34"/>
<text x="410.4" y="349.3" font-size="6.0" fill="#333" style="stroke-width:.1px">2</text>
<rect x="419.6" y="348.7" width="1.4" height="1.5" fill="#231f20" stroke-width="0.34"/>
<text x="421.4" y="349.3" font-size="6.0" fill="#333" style="stroke-width:.1px">3</text>
<rect x="430.7" y="348.7" width="1.4" height="1.5" fill="#231f20" stroke-width="0.34"/>
<text x="432.5" y="349.3" font-size="6.0" fill="#333" style="stroke-width:.1px">4</text>
<rect x="441.8" y="348.7" width="1.4" height="1.5" fill="#231f20" stroke-width="0.34"/>
<text x="443.6" y="349.3" font-size="6.0" fill="#333" style="stroke-width:.1px">5</text>
<rect x="452.9" y="348.7" width="1.4" height="1.5" fill="#231f20" stroke-width="0.34"/>
<text x="454.7" y="349.3" font-size="6.0" fill="#333" style="stroke-width:.1px">6</text>
<rect x="464" y="348.7" width="1.4" height="1.5" fill="#231f20" stroke-width="0.34"/>
<text x="465.8" y="349.3" font-size="6.0" fill="#333" style="stroke-width:.1px">7</text>
<text x="478.6" y="349.7" font-size="5.9" text-anchor="middle" fill="#3c3c3c">DQa</text>
<rect x="496.6" y="348.7" width="1.4" height="1.5" fill="#231f20" stroke-width="0.34"/>
<text x="498.4" y="349.3" font-size="6.0" fill="#333" style="stroke-width:.1px">0</text>
<rect x="507.7" y="348.7" width="1.4" height="1.5" fill="#231f20" stroke-width="0.34"/>
<text x="509.5" y="349.3" font-size="6.0" fill="#333" style="stroke-width:.1px">1</text>
<rect x="518.8" y="348.7" width="1.4" height="1.5" fill="#231f20" stroke-width="0.34"/>
<text x="520.6" y="349.3" font-size="6.0" fill="#333" style="stroke-width:.1px">2</text>
<rect x="529.8" y="348.7" width="1.4" height="1.5" fill="#231f20" stroke-width="0.34"/>
<text x="531.6" y="349.3" font-size="6.0" fill="#333" style="stroke-width:.1px">3</text>
<rect x="540.9" y="348.7" width="1.4" height="1.5" fill="#231f20" stroke-width="0.34"/>
<text x="542.7" y="349.3" font-size="6.0" fill="#333" style="stroke-width:.1px">4</text>
<rect x="552" y="348.7" width="1.4" height="1.5" fill="#231f20" stroke-width="0.34"/>
<text x="553.8" y="349.3" font-size="6.0" fill="#333" style="stroke-width:.1px">5</text>
<rect x="563.1" y="348.7" width="1.4" height="1.5" fill="#231f20" stroke-width="0.34"/>
<text x="564.9" y="349.3" font-size="6.0" fill="#333" style="stroke-width:.1px">6</text>
<rect x="574.2" y="348.7" width="1.4" height="1.5" fill="#231f20" stroke-width="0.34"/>
<text x="576" y="349.3" font-size="6.0" fill="#333" style="stroke-width:.1px">7</text>
<text x="588.8" y="349.7" font-size="5.9" text-anchor="middle" fill="#3c3c3c">DQb</text>
<path d="M384.5,350L384.5,341.1L485.5,341.1L485.5,350" stroke-width="1.01"/>
<path d="M495.2,350L495.2,341.1L596.6,341.1L596.6,350" stroke-width="1.01"/>
<text x="574.1" y="216.8" font-size="6.5" text-anchor="middle" fill="#231f20">X23</text>
<text x="571" y="225.3" font-size="6.5" text-anchor="middle" fill="#231f20">288-1ST40-0AA0</text>
<text x="564.8" y="311.1" font-size="10.7" fill="#231f20">CPUST40</text>
<path d="M629.6,233.5L629.6,254.3L639.5,254.3" stroke-width="1.01"/>
<path d="M629.6,240.5L639.5,240.5" stroke-width="1.01"/>
<path d="M629.6,252.5L639.5,252.5" stroke-width="1.01"/>
<path d="M629.5,366L629.5,345.3L639.5,345.3" stroke-width="1.23"/>
<path d="M629.5,347.5L639.5,347.5" stroke-width="1.46"/>
<path d="M629.5,359.5L639.5,359.5" stroke-width="1.01"/>
<path d="M627.5,366L627.5,513" stroke-width="1.01"/>
<path d="M629.5,366L629.5,513" stroke-width="1.01"/>
<path d="M83,518 L86.6,521.7 H194.8" stroke-width="1.34"/>
<path d="M85.5,343 V519.6 H167.4" stroke-width="0.9"/>
<path d="M83.2,343.3L177.7,345.3" stroke-width="1.01"/>
<path d="M85.7,345.3L167.4,347.4" stroke-width="1.01"/>
<path d="M167.5,347.4L167.5,519.6" stroke-width="1.01"/>
<path d="M170.5,347.4L170.5,358.6" stroke="#888" stroke-width="0.9"/>
<path d="M170.5,358.6L170.5,521.2" stroke-width="1.01"/>
<path d="M167.4,358.5L177.7,358.5" stroke="#999" stroke-width="0.9"/>
<path d="M177.5,345.3L177.5,366.2" stroke-width="1.01"/>
<path d="M177.5,366.2L177.5,510.3" stroke-width="1.01"/>
<path d="M179.5,366.2L179.5,510.3" stroke-width="1.01"/>
<path d="M177.9,510.5L194.7,510.5" stroke-width="1.01"/>
<path d="M177.9,512.5L194.7,512.5" stroke-width="1.01"/>
<path d="M177.9,431.5L192.6,431.5" stroke-width="1.01"/>
<path d="M177.9,442.5L192.6,442.5" stroke-width="1.01"/>
<rect x="175.6" y="488.6" width="1.8" height="6.2" rx="0.8" fill="#231f20" stroke-width="0.67"/>
<path d="M140.8,389.2L129.7,395.4L118.6,389.2L118.6,377L129.7,370.8L140.8,377Z" stroke-width="1.01"/>
<circle cx="129.7" cy="383.1" r="5.9" stroke-width="1.01"/>
<path d="M140.8,500.1L129.7,506.3L118.6,500.1L118.6,487.9L129.7,481.7L140.8,487.9Z" stroke-width="1.01"/>
<circle cx="129.7" cy="494" r="5.9" stroke-width="1.01"/>
<path d="M106.1,392 Q106.1,387 111,386.9 L112.8,386.9 Q115.6,386.6 115,383.6 A14.7,14.7 0 0 1 144.4,383.6 Q143.8,386.6 146.6,386.9 L148.2,386.9 Q153,387 153,392 V485.1 Q153,490.1 148.2,490.2 L146.6,490.2 Q143.8,490.5 144.4,493.5 A14.7,14.7 0 0 1 115,493.5 Q115.6,490.5 112.8,490.2 L111,490.2 Q106.1,490.1 106.1,485.1 Z" stroke-width="1.01"/>
<path d="M118.6,405.7 L141.5,402.2 Q147.6,401.6 147.6,408 V469.1 Q147.6,475.5 141.5,474.9 L118.6,471.4 Q112.2,470.4 112.2,464 V413.1 Q112.2,406.7 118.6,405.7 Z" stroke-width="1.01"/>
<path d="M119.4,408.6 L141,405.3 Q144.8,405 144.8,409 V468.1 Q144.8,472.1 141,471.8 L119.4,468.5 Q115,467.7 115,463.5 V413.6 Q115,409.4 119.4,408.6 Z" stroke-width="1.01"/>
<path d="M118.6,405.7L119.4,408.6" stroke-width="0.78"/>
<path d="M118.6,471.4L119.4,468.5" stroke-width="0.78"/>
<path d="M141.5,402.2L141,405.3" stroke-width="0.78"/>
<path d="M141.5,474.9L141,471.8" stroke-width="0.78"/>
<path d="M112.3,411.5L115,412.3" stroke-width="0.78"/>
<path d="M112.3,465.6L115,464.8" stroke-width="0.78"/>
<path d="M147.6,408L144.8,408.6" stroke-width="0.78"/>
<path d="M147.6,469.1L144.8,468.5" stroke-width="0.78"/>
<circle cx="122.3" cy="417.3" r="2.8" stroke-width="0.9"/>
<circle cx="122.3" cy="430.7" r="2.8" stroke-width="0.9"/>
<circle cx="122.3" cy="444" r="2.8" stroke-width="0.9"/>
<circle cx="122.3" cy="457.4" r="2.8" stroke-width="0.9"/>
<circle cx="137.3" cy="411.8" r="2.8" stroke-width="0.9"/>
<circle cx="137.3" cy="425.1" r="2.8" stroke-width="0.9"/>
<circle cx="137.3" cy="438.4" r="2.8" stroke-width="0.9"/>
<circle cx="137.3" cy="451.7" r="2.8" stroke-width="0.9"/>
<circle cx="137.3" cy="465" r="2.8" stroke-width="0.9"/>
<text x="98.9" y="454.1" font-size="6.6" fill="#231f20" transform="rotate(-90 98.9 454.1)" textLength="35" lengthAdjust="spacingAndGlyphs">RS485 X 20</text>
<path d="M192.6,410.5L198,410.5" stroke-width="1.01"/>
<path d="M192.5,410.4L192.5,521.3" stroke-width="1.01"/>
<path d="M194.5,410.4L194.5,521.3" stroke-width="1.01"/>
<path d="M198.9,416.9L230.6,416.9L230.6,389.5" stroke-width="1.23"/>
<path d="M230.6,390 Q230.6,386.6 234,386.6 H329.4 Q332.4,386.6 332.4,389.6 V417.0 H354.6" stroke-width="1.23"/>
<path d="M236.5,386.7 V398 Q236.5,404.4 230.6,404.4" stroke-width="1.01"/>
<path d="M245.2,386.7 V399.7 A4.7,4.7 0 0 0 254.6,399.7 V386.7" stroke-width="1.01"/>
<path d="M263.3,386.7 V399.7 A4.7,4.7 0 0 0 272.7,399.7 V386.7" stroke-width="1.01"/>
<path d="M281.3,386.7 V399.7 A4.7,4.7 0 0 0 290.7,399.7 V386.7" stroke-width="1.01"/>
<path d="M298.9,386.7 V399.7 A4.7,4.7 0 0 0 308.3,399.7 V386.7" stroke-width="1.01"/>
<path d="M316.8,386.7 V399.7 A4.7,4.7 0 0 0 326.2,399.7 V386.7" stroke-width="1.01"/>
<path d="M308.2,386.7L308.2,400" stroke-width="1.57"/>
<path d="M329.2,386.7L329.2,404.2L325,404.2" stroke-width="1.01"/>
<rect x="233.3" y="406.5" width="85.3" height="7" rx="3.5" stroke-width="1.06"/>
<path d="M235.5,408.5L316.5,408.5" stroke-width="0.84"/>
<path d="M235,410.5L317,410.5" stroke-width="0.84"/>
<path d="M236.3,413.2L315.7,413.2" stroke-width="1.68"/>
<path d="M234.5,407.6L234.5,412.4" stroke-width="0.67"/>
<path d="M317.5,407.6L317.5,412.4" stroke-width="0.67"/>
<path d="M194.7,425.1L204.1,425.1L204.1,417.8" stroke-width="1.68"/>
<path d="M202.5,417.8L202.5,424" stroke-width="1.01"/>
<path d="M196,411.5L196,419.3L201.5,419.3" stroke-width="0.9"/>
<path d="M204.1,424.2L337.5,424.2L337.5,426.2L349.6,426.2" stroke-width="1.01"/>
<path d="M349.5,417.1L349.5,426.2" stroke-width="1.01"/>
<path d="M351.5,417.1L351.5,426.2" stroke-width="1.01"/>
<path d="M356,413.6L356,419L351.5,419" stroke-width="1.01"/>
<rect x="356" y="410.6" width="172.5" height="2.7" fill="#fafbfa" stroke="none" stroke-width="0.01"/>
<path d="M354.6,410.5L528.5,410.5" stroke-width="1.23"/>
<path d="M356,413.5L528.5,413.5" stroke-width="1.01"/>
<path d="M351,425.2L530.7,425.2" stroke-width="2.35"/>
<rect x="390.7" y="405.8" width="9.7" height="19.4" fill="#edefee" stroke-width="1.4"/>
<path d="M390.7,405.8L400.4,405.8" stroke-width="1.68"/>
<path d="M390.8,418.5L400.4,418.5" stroke-width="1.9"/>
<path d="M390.9,421.5L400.2,421.5" stroke-width="1.12"/>
<path d="M390.9,423.5L400.2,423.5" stroke-width="0.9"/>
<rect x="412" y="405.8" width="9.7" height="19.4" fill="#edefee" stroke-width="1.4"/>
<path d="M412,405.8L421.8,405.8" stroke-width="1.68"/>
<path d="M412.1,418.5L421.7,418.5" stroke-width="1.9"/>
<path d="M412.3,421.5L421.5,421.5" stroke-width="1.12"/>
<path d="M412.3,423.5L421.5,423.5" stroke-width="0.9"/>
<rect x="433.5" y="405.8" width="9.7" height="19.4" fill="#edefee" stroke-width="1.4"/>
<path d="M433.5,405.8L443.2,405.8" stroke-width="1.68"/>
<path d="M433.6,418.5L443.2,418.5" stroke-width="1.9"/>
<path d="M433.8,421.5L443,421.5" stroke-width="1.12"/>
<path d="M433.8,423.5L443,423.5" stroke-width="0.9"/>
<rect x="455" y="405.8" width="9.7" height="19.4" fill="#edefee" stroke-width="1.4"/>
<path d="M455,405.8L464.8,405.8" stroke-width="1.68"/>
<path d="M455.1,418.5L464.7,418.5" stroke-width="1.9"/>
<path d="M455.3,421.5L464.5,421.5" stroke-width="1.12"/>
<path d="M455.3,423.5L464.5,423.5" stroke-width="0.9"/>
<rect x="476.2" y="405.8" width="9.7" height="19.4" fill="#edefee" stroke-width="1.4"/>
<path d="M476.2,405.8L486,405.8" stroke-width="1.68"/>
<path d="M476.3,418.5L485.9,418.5" stroke-width="1.9"/>
<path d="M476.5,421.5L485.7,421.5" stroke-width="1.12"/>
<path d="M476.5,423.5L485.7,423.5" stroke-width="0.9"/>
<rect x="497.4" y="405.8" width="9.7" height="19.4" fill="#edefee" stroke-width="1.4"/>
<path d="M497.4,405.8L507.2,405.8" stroke-width="1.68"/>
<path d="M497.5,418.5L507.1,418.5" stroke-width="1.9"/>
<path d="M497.7,421.5L506.9,421.5" stroke-width="1.12"/>
<path d="M497.7,423.5L506.9,423.5" stroke-width="0.9"/>
<text x="378.5" y="390.2" font-size="6.7" fill="#231f20" transform="rotate(-90 378.5 390.2)" textLength="11" lengthAdjust="spacingAndGlyphs">X12</text>
<path d="M373.4,393.1L378.2,393.1L375.8,396Z" stroke-width="0.78"/>
<text x="522.8" y="390.2" font-size="6.7" fill="#231f20" transform="rotate(-90 522.8 390.2)" textLength="11" lengthAdjust="spacingAndGlyphs">X13</text>
<path d="M517.7,393.1L522.5,393.1L520.1,396Z" stroke-width="0.78"/>
<path d="M528.5,366L528.5,424.8" stroke-width="0.9"/>
<path d="M530.5,366L530.5,424.8" stroke-width="1.4"/>
<path d="M609.5,366L609.5,424.8" stroke-width="1.34"/>
<path d="M611.5,366L611.5,424.8" stroke-width="0.9"/>
<path d="M530.7,373.5L609.2,373.5" stroke-width="1.01"/>
<path d="M530.7,400.1L609.2,400.1" stroke-width="1.79"/>
<rect x="532.6" y="401.9" width="75.2" height="13" stroke-width="1.01"/>
<rect x="541.2" y="403.4" width="58.1" height="10.2" stroke-width="1.12"/>
<path d="M541.2,403.4L599.3,403.4" stroke-width="1.57"/>
<path d="M530.7,416.9L609.2,416.9" stroke-width="1.9"/>
<path d="M530.7,419.5L609.2,419.5" stroke-width="0.9"/>
<path d="M548.9,378.1L561.7,378.1L561.7,396.3L553.4,396.3L548.9,391.5Z" stroke-width="1.01"/>
<path d="M552.9,391.8L558.7,391.8L555.8,394.8Z" fill="#231f20" stroke-width="0.56"/>
<text x="567.4" y="386.4" font-size="6.5" fill="#3a3a3a">Micro-SD</text>
<text x="574.8" y="393.5" font-size="6.5" fill="#3a3a3a">X50</text>
<path d="M611.6,410.6L619.9,410.6L619.9,425.8" stroke-width="1.01"/>
<path d="M530.7,425.7L617.2,425.7" stroke-width="1.68"/>
<path d="M203.6,436.5L379.8,436.5" stroke-width="1.01"/>
<path d="M203.5,436.7L203.5,457.2" stroke-width="1.01"/>
<path d="M194.6,457.5L615.6,457.5" stroke-width="1.01"/>
<path d="M379.5,436.7L379.5,452.8" stroke-width="1.01"/>
<path d="M382.6,452.8L382.6,436.7L570.5,436.7L570.5,452.4" stroke-width="1.01"/>
<path d="M616.5,425.4L616.5,521.7" stroke-width="1.01"/>
<text x="213" y="433.9" font-size="6.45" fill="#2a2a2a">24VDC</text>
<text x="241.7" y="433.9" font-size="6.45" fill="#2a2a2a">OUTPUTS</text>
<text x="223" y="443.2" font-size="6.4" fill="#231f20" style="stroke-width:.35px">DQa</text>
<text x="416.4" y="442.6" font-size="6.0" fill="#444">DQb</text>
<text x="204.2" y="452.7" font-size="10.6" fill="#231f20" textLength="33.2" lengthAdjust="spacingAndGlyphs">2L+2M</text>
<text x="248.5" y="452.7" font-size="10.5" text-anchor="middle" fill="#231f20">.0</text>
<rect x="244.8" y="450.7" width="2" height="2.1" fill="#231f20" stroke="none"/>
<text x="266.6" y="452.7" font-size="10.5" text-anchor="middle" fill="#231f20">.1</text>
<rect x="262.9" y="450.7" width="2" height="2.1" fill="#231f20" stroke="none"/>
<text x="284.7" y="452.7" font-size="10.5" text-anchor="middle" fill="#231f20">.2</text>
<rect x="281" y="450.7" width="2" height="2.1" fill="#231f20" stroke="none"/>
<text x="302.7" y="452.7" font-size="10.5" text-anchor="middle" fill="#231f20">.3</text>
<rect x="299" y="450.7" width="2" height="2.1" fill="#231f20" stroke="none"/>
<text x="320.8" y="452.7" font-size="10.5" text-anchor="middle" fill="#231f20">.4</text>
<rect x="317.1" y="450.7" width="2" height="2.1" fill="#231f20" stroke="none"/>
<text x="338.9" y="452.7" font-size="10.5" text-anchor="middle" fill="#231f20">.5</text>
<rect x="335.2" y="450.7" width="2" height="2.1" fill="#231f20" stroke="none"/>
<text x="357" y="452.7" font-size="10.5" text-anchor="middle" fill="#231f20">.6</text>
<rect x="353.3" y="450.7" width="2" height="2.1" fill="#231f20" stroke="none"/>
<text x="375.1" y="452.7" font-size="10.5" text-anchor="middle" fill="#231f20">.7</text>
<rect x="371.4" y="450.7" width="2" height="2.1" fill="#231f20" stroke="none"/>
<text x="385.4" y="452.7" font-size="10.5" fill="#231f20">3L+</text>
<text x="413.2" y="452.7" font-size="10.5" fill="#231f20">3M</text>
<text x="438" y="452.7" font-size="10.5" text-anchor="middle" fill="#231f20">.0</text>
<rect x="434.3" y="450.7" width="2" height="2.1" fill="#231f20" stroke="none"/>
<text x="456" y="452.7" font-size="10.5" text-anchor="middle" fill="#231f20">.1</text>
<rect x="452.3" y="450.7" width="2" height="2.1" fill="#231f20" stroke="none"/>
<text x="474" y="452.7" font-size="10.5" text-anchor="middle" fill="#231f20">.2</text>
<rect x="470.3" y="450.7" width="2" height="2.1" fill="#231f20" stroke="none"/>
<text x="492" y="452.7" font-size="10.5" text-anchor="middle" fill="#231f20">.3</text>
<rect x="488.3" y="450.7" width="2" height="2.1" fill="#231f20" stroke="none"/>
<text x="510" y="452.7" font-size="10.5" text-anchor="middle" fill="#231f20">.4</text>
<rect x="506.3" y="450.7" width="2" height="2.1" fill="#231f20" stroke="none"/>
<text x="528" y="452.7" font-size="10.5" text-anchor="middle" fill="#231f20">.5</text>
<rect x="524.3" y="450.7" width="2" height="2.1" fill="#231f20" stroke="none"/>
<text x="546.1" y="452.7" font-size="10.5" text-anchor="middle" fill="#231f20">.6</text>
<rect x="542.4" y="450.7" width="2" height="2.1" fill="#231f20" stroke="none"/>
<text x="564.1" y="452.7" font-size="10.5" text-anchor="middle" fill="#231f20">.7</text>
<rect x="560.4" y="450.7" width="2" height="2.1" fill="#231f20" stroke="none"/>
<text x="578.6" y="452.6" font-size="10.6" fill="#231f20" textLength="11.3" lengthAdjust="spacingAndGlyphs">L+</text>
<text x="597.2" y="452.6" font-size="10.6" fill="#231f20" textLength="8.2" lengthAdjust="spacingAndGlyphs">M</text>
<text x="578.7" y="441.4" font-size="6.45" fill="#231f20">24VDC</text>
<path d="M575.1,443.5L608.8,443.5" stroke-width="1.12"/>
<path d="M602.7,432.2L607.9,432.2L607.9,437.5L610.6,437.5L605.3,442.8L600,437.5L602.7,437.5Z" fill="#edefee" stroke-width="1.12"/>
<rect x="616.6" y="431.8" width="12" height="10.6" stroke-width="1.01"/>
<path d="M202.5,518.1L202.5,463.6L402.5,463.6L402.5,518.1" stroke-width="1.01"/>
<path d="M202.5,467.5L402.5,467.5" stroke-width="1.68"/>
<path d="M202.5,508.5L402.5,508.5" stroke-width="2.46"/>
<path d="M202.5,514.2L208.7,514.2L208.7,511.3L220.1,511.3L220.1,514.2L226.9,514.2L226.9,511.3L238.1,511.3L238.1,514.2L244.9,514.2L244.9,511.3L255.6,511.3L255.6,514.2L262.4,514.2L262.4,511.3L273.1,511.3L273.1,514.2L279.9,514.2L279.9,511.3L291.1,511.3L291.1,514.2L297.9,514.2L297.9,511.3L309.1,511.3L309.1,514.2L315.9,514.2L315.9,511.3L327.1,511.3L327.1,514.2L333.9,514.2L333.9,511.3L344.6,511.3L344.6,514.2L351.4,514.2L351.4,511.3L362.1,511.3L362.1,514.2L368.9,514.2L368.9,511.3L380.1,511.3L380.1,514.2L386.9,514.2L386.9,511.3L398,511.3L398,514.2L402.5,514.2" stroke-width="1.01"/>
<circle cx="213.5" cy="489.5" r="7.4" stroke-width="0.95"/>
<rect x="212.5" y="484.4" width="2" height="11" stroke-width="1.06"/>
<rect x="211.6" y="500.3" width="3.8" height="3.1" stroke-width="1.06"/>
<circle cx="231.5" cy="489.5" r="7.4" stroke-width="0.95"/>
<rect x="230.5" y="484.4" width="2" height="11" stroke-width="1.06"/>
<rect x="229.6" y="500.3" width="3.8" height="3.1" stroke-width="1.06"/>
<circle cx="249.5" cy="489.5" r="7.4" stroke-width="0.95"/>
<rect x="248.5" y="484.4" width="2" height="11" stroke-width="1.06"/>
<rect x="247.6" y="500.3" width="3.8" height="3.1" stroke-width="1.06"/>
<circle cx="266.5" cy="489.5" r="7.4" stroke-width="0.95"/>
<rect x="265.5" y="484.4" width="2" height="11" stroke-width="1.06"/>
<rect x="264.6" y="500.3" width="3.8" height="3.1" stroke-width="1.06"/>
<circle cx="284.5" cy="489.5" r="7.4" stroke-width="0.95"/>
<rect x="283.5" y="484.4" width="2" height="11" stroke-width="1.06"/>
<rect x="282.6" y="500.3" width="3.8" height="3.1" stroke-width="1.06"/>
<circle cx="302.5" cy="489.5" r="7.4" stroke-width="0.95"/>
<rect x="301.5" y="484.4" width="2" height="11" stroke-width="1.06"/>
<rect x="300.6" y="500.3" width="3.8" height="3.1" stroke-width="1.06"/>
<circle cx="320.5" cy="489.5" r="7.4" stroke-width="0.95"/>
<rect x="319.5" y="484.4" width="2" height="11" stroke-width="1.06"/>
<rect x="318.6" y="500.3" width="3.8" height="3.1" stroke-width="1.06"/>
<circle cx="338.5" cy="489.5" r="7.4" stroke-width="0.95"/>
<rect x="337.5" y="484.4" width="2" height="11" stroke-width="1.06"/>
<rect x="336.6" y="500.3" width="3.8" height="3.1" stroke-width="1.06"/>
<circle cx="355.5" cy="489.5" r="7.4" stroke-width="0.95"/>
<rect x="354.5" y="484.4" width="2" height="11" stroke-width="1.06"/>
<rect x="353.6" y="500.3" width="3.8" height="3.1" stroke-width="1.06"/>
<circle cx="373.5" cy="489.5" r="7.4" stroke-width="0.95"/>
<rect x="372.5" y="484.4" width="2" height="11" stroke-width="1.06"/>
<rect x="371.6" y="500.3" width="3.8" height="3.1" stroke-width="1.06"/>
<circle cx="391.5" cy="489.5" r="7.4" stroke-width="0.95"/>
<rect x="390.5" y="484.4" width="2" height="11" stroke-width="1.06"/>
<rect x="389.6" y="500.3" width="3.8" height="3.1" stroke-width="1.06"/>
<rect x="293.5" y="467.5" width="18" height="2.8" fill="#fafbfa" stroke-width="0.95"/>
<path d="M410.5,518.1L410.5,463.6L610.5,463.6L610.5,518.1" stroke-width="1.01"/>
<path d="M410.5,467.5L610.5,467.5" stroke-width="1.68"/>
<path d="M410.5,508.5L610.5,508.5" stroke-width="2.46"/>
<path d="M410.5,514.2L416.7,514.2L416.7,511.3L428.1,511.3L428.1,514.2L434.9,514.2L434.9,511.3L446.1,511.3L446.1,514.2L452.9,514.2L452.9,511.3L463.6,511.3L463.6,514.2L470.4,514.2L470.4,511.3L481.1,511.3L481.1,514.2L487.9,514.2L487.9,511.3L499.1,511.3L499.1,514.2L505.9,514.2L505.9,511.3L517.1,511.3L517.1,514.2L523.9,514.2L523.9,511.3L534.6,511.3L534.6,514.2L541.4,514.2L541.4,511.3L552.1,511.3L552.1,514.2L558.9,514.2L558.9,511.3L570.1,511.3L570.1,514.2L576.9,514.2L576.9,511.3L588.1,511.3L588.1,514.2L594.9,514.2L594.9,511.3L606,511.3L606,514.2L610.5,514.2" stroke-width="1.01"/>
<circle cx="421.5" cy="489.5" r="7.4" stroke-width="0.95"/>
<rect x="420.5" y="484.4" width="2" height="11" stroke-width="1.06"/>
<rect x="419.6" y="500.3" width="3.8" height="3.1" stroke-width="1.06"/>
<circle cx="439.5" cy="489.5" r="7.4" stroke-width="0.95"/>
<rect x="438.5" y="484.4" width="2" height="11" stroke-width="1.06"/>
<rect x="437.6" y="500.3" width="3.8" height="3.1" stroke-width="1.06"/>
<circle cx="457.5" cy="489.5" r="7.4" stroke-width="0.95"/>
<rect x="456.5" y="484.4" width="2" height="11" stroke-width="1.06"/>
<rect x="455.6" y="500.3" width="3.8" height="3.1" stroke-width="1.06"/>
<circle cx="474.5" cy="489.5" r="7.4" stroke-width="0.95"/>
<rect x="473.5" y="484.4" width="2" height="11" stroke-width="1.06"/>
<rect x="472.6" y="500.3" width="3.8" height="3.1" stroke-width="1.06"/>
<circle cx="492.5" cy="489.5" r="7.4" stroke-width="0.95"/>
<rect x="491.5" y="484.4" width="2" height="11" stroke-width="1.06"/>
<rect x="490.6" y="500.3" width="3.8" height="3.1" stroke-width="1.06"/>
<circle cx="510.5" cy="489.5" r="7.4" stroke-width="0.95"/>
<rect x="509.5" y="484.4" width="2" height="11" stroke-width="1.06"/>
<rect x="508.6" y="500.3" width="3.8" height="3.1" stroke-width="1.06"/>
<circle cx="528.5" cy="489.5" r="7.4" stroke-width="0.95"/>
<rect x="527.5" y="484.4" width="2" height="11" stroke-width="1.06"/>
<rect x="526.6" y="500.3" width="3.8" height="3.1" stroke-width="1.06"/>
<circle cx="545.5" cy="489.5" r="7.4" stroke-width="0.95"/>
<rect x="544.5" y="484.4" width="2" height="11" stroke-width="1.06"/>
<rect x="543.6" y="500.3" width="3.8" height="3.1" stroke-width="1.06"/>
<circle cx="563.5" cy="489.5" r="7.4" stroke-width="0.95"/>
<rect x="562.5" y="484.4" width="2" height="11" stroke-width="1.06"/>
<rect x="561.6" y="500.3" width="3.8" height="3.1" stroke-width="1.06"/>
<circle cx="581.5" cy="489.5" r="7.4" stroke-width="0.95"/>
<rect x="580.5" y="484.4" width="2" height="11" stroke-width="1.06"/>
<rect x="579.6" y="500.3" width="3.8" height="3.1" stroke-width="1.06"/>
<circle cx="599.5" cy="489.5" r="7.4" stroke-width="0.95"/>
<rect x="598.5" y="484.4" width="2" height="11" stroke-width="1.06"/>
<rect x="597.6" y="500.3" width="3.8" height="3.1" stroke-width="1.06"/>
<rect x="501.5" y="467.5" width="18" height="2.8" fill="#fafbfa" stroke-width="0.95"/>
<path d="M202.4,518.5L616.6,518.5" stroke-width="1.01"/>
<path d="M194.7,521.5L636.4,521.5" stroke-width="1.34"/>
<path d="M619.5,425.4L619.5,521.7" stroke-width="1.01"/>
<path d="M627.4,442.4 V508 Q627.4,509.8 625.6,509.8 H616.7" stroke-width="1.01"/>
<path d="M629.5,513 V510.5 L627.8,511.9 H619.3" stroke-width="1.01"/>
<rect x="629.6" y="488" width="1.9" height="7.6" rx="1" fill="#231f20" stroke-width="0.56"/>
<path d="M213.5,522L213.5,560.2" stroke-width="1.12"/>
<path d="M204.2,560.5L222.9,560.5" stroke-width="1.23"/>
<path d="M208.6,567.5L218.9,567.5" stroke-width="1.23"/>
<path d="M213.5,567.3L213.5,593.3" stroke-width="1.12"/>
<path d="M231.5,522L231.5,593.3" stroke-width="1.12"/>
<path d="M249.5,522L249.5,544.6" stroke-width="1.12"/>
<rect x="245.3" y="544.6" width="8.4" height="31.5" stroke-width="1.12"/>
<path d="M249.5,576.1L249.5,593.3" stroke-width="1.12"/>
<path d="M266.5,522L266.5,544.6" stroke-width="1.12"/>
<rect x="262.3" y="544.6" width="8.4" height="31.5" stroke-width="1.12"/>
<path d="M266.5,576.1L266.5,593.3" stroke-width="1.12"/>
<path d="M284.5,522L284.5,544.6" stroke-width="1.12"/>
<rect x="280.3" y="544.6" width="8.4" height="31.5" stroke-width="1.12"/>
<path d="M284.5,576.1L284.5,593.3" stroke-width="1.12"/>
<path d="M302.5,522L302.5,544.6" stroke-width="1.12"/>
<rect x="298.3" y="544.6" width="8.4" height="31.5" stroke-width="1.12"/>
<path d="M302.5,576.1L302.5,593.3" stroke-width="1.12"/>
<path d="M320.5,522L320.5,544.6" stroke-width="1.12"/>
<rect x="316.3" y="544.6" width="8.4" height="31.5" stroke-width="1.12"/>
<path d="M320.5,576.1L320.5,593.3" stroke-width="1.12"/>
<path d="M338.5,522L338.5,544.6" stroke-width="1.12"/>
<rect x="334.3" y="544.6" width="8.4" height="31.5" stroke-width="1.12"/>
<path d="M338.5,576.1L338.5,593.3" stroke-width="1.12"/>
<path d="M355.5,522L355.5,544.6" stroke-width="1.12"/>
<rect x="351.3" y="544.6" width="8.4" height="31.5" stroke-width="1.12"/>
<path d="M355.5,576.1L355.5,593.3" stroke-width="1.12"/>
<path d="M373.5,522L373.5,544.6" stroke-width="1.12"/>
<rect x="369.3" y="544.6" width="8.4" height="31.5" stroke-width="1.12"/>
<path d="M373.5,576.1L373.5,593.3" stroke-width="1.12"/>
<path d="M213,593.5L374,593.5" stroke-width="1.12"/>
<path d="M391.5,522L391.5,560.2" stroke-width="1.12"/>
<path d="M382.9,560.5L401,560.5" stroke-width="1.23"/>
<path d="M386.9,567.5L396.8,567.5" stroke-width="1.23"/>
<path d="M391.5,567.3L391.5,593.3" stroke-width="1.12"/>
<path d="M422.5,522L422.5,544.6" stroke-width="1.12"/>
<rect x="418.3" y="544.6" width="8.4" height="31.5" stroke-width="1.12"/>
<path d="M422.5,576.1L422.5,593.3" stroke-width="1.12"/>
<path d="M440.5,522L440.5,544.6" stroke-width="1.12"/>
<rect x="436.3" y="544.6" width="8.4" height="31.5" stroke-width="1.12"/>
<path d="M440.5,576.1L440.5,593.3" stroke-width="1.12"/>
<path d="M457.5,522L457.5,544.6" stroke-width="1.12"/>
<rect x="453.3" y="544.6" width="8.4" height="31.5" stroke-width="1.12"/>
<path d="M457.5,576.1L457.5,593.3" stroke-width="1.12"/>
<path d="M475.5,522L475.5,544.6" stroke-width="1.12"/>
<rect x="471.3" y="544.6" width="8.4" height="31.5" stroke-width="1.12"/>
<path d="M475.5,576.1L475.5,593.3" stroke-width="1.12"/>
<path d="M493.5,522L493.5,544.6" stroke-width="1.12"/>
<rect x="489.3" y="544.6" width="8.4" height="31.5" stroke-width="1.12"/>
<path d="M493.5,576.1L493.5,593.3" stroke-width="1.12"/>
<path d="M511.5,522L511.5,544.6" stroke-width="1.12"/>
<rect x="507.3" y="544.6" width="8.4" height="31.5" stroke-width="1.12"/>
<path d="M511.5,576.1L511.5,593.3" stroke-width="1.12"/>
<path d="M528.5,522L528.5,544.6" stroke-width="1.12"/>
<rect x="524.3" y="544.6" width="8.4" height="31.5" stroke-width="1.12"/>
<path d="M528.5,576.1L528.5,593.3" stroke-width="1.12"/>
<path d="M546.5,522L546.5,544.6" stroke-width="1.12"/>
<rect x="542.3" y="544.6" width="8.4" height="31.5" stroke-width="1.12"/>
<path d="M546.5,576.1L546.5,593.3" stroke-width="1.12"/>
<path d="M564.5,522L564.5,544.6" stroke-width="1.12"/>
<rect x="560.3" y="544.6" width="8.4" height="31.5" stroke-width="1.12"/>
<path d="M564.5,576.1L564.5,593.3" stroke-width="1.12"/>
<path d="M391,593.5L565,593.5" stroke-width="1.12"/>
<path d="M581.5,522L581.5,546" stroke-width="1.06"/>
<path d="M581.5,546L581.5,586.5" stroke="#707070" stroke-width="1.01"/>
<path d="M579.2,586.3L583.8,586.3L581.5,593.6Z" stroke-width="0.9"/>
<path d="M599.5,522L599.5,546" stroke-width="1.06"/>
<path d="M599.5,546L599.5,586.5" stroke="#707070" stroke-width="1.01"/>
<path d="M597.2,586.3L601.8,586.3L599.5,593.6Z" stroke-width="0.9"/>
<path d="M194.9,544.5L202.3,544.5" stroke-width="1.46"/>
<path d="M198.5,538.9L198.5,549.1" stroke-width="1.46"/>
<path d="M193.1,584.3L198.2,584.3" stroke-width="2.91"/>
<path d="M400.8,540.5L408.2,540.5" stroke-width="1.46"/>
<path d="M404.5,535.2L404.5,545.4" stroke-width="1.46"/>
<path d="M399,581.2L404.3,581.2" stroke-width="2.91"/>
<text x="178.9" y="570.6" font-size="14.2" fill="#231f20" textLength="19.1" lengthAdjust="spacingAndGlyphs">DC</text>
<text x="392.6" y="608.6" font-size="14.2" fill="#231f20" textLength="19.1" lengthAdjust="spacingAndGlyphs">DC</text>
<text x="303.2" y="643.8" font-size="27.5" textLength="117.8" lengthAdjust="spacingAndGlyphs" fill="#231f20" style="stroke:#edefee;stroke-width:0.45px">CPU ST40</text>
</g></svg></div></body></html>
